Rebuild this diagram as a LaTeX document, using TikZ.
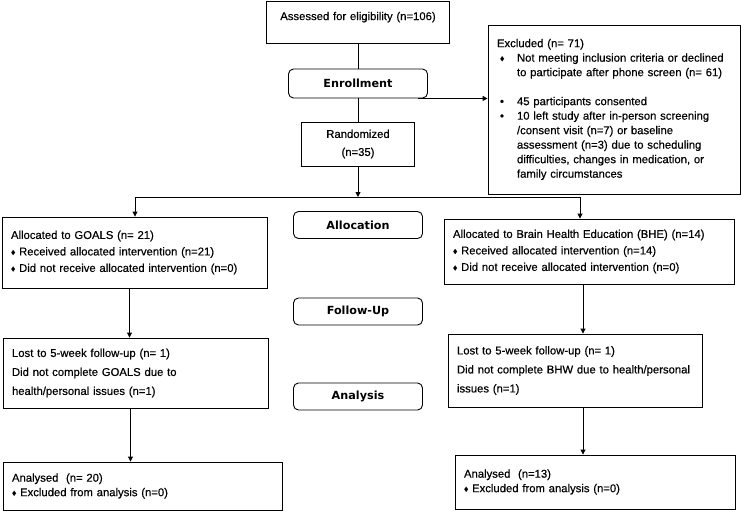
\documentclass[tikz,border=0pt]{standalone}
\usepackage{fontspec}
\setmainfont{Liberation Sans}[FakeBold=0.4]
\newfontfamily\headfont{DejaVu Sans}
\usepackage{tikz}
\usetikzlibrary{arrows.meta}

\newcommand{\dia}{{\fontsize{8.5}{8.5}\selectfont\raisebox{0.4pt}{♦}}}
\newcommand{\exitem}[2]{\makebox[20pt][l]{\hspace{3pt}#1}#2}
\newcommand{\exrest}{\hspace*{20pt}}

\begin{document}
\begin{tikzpicture}[x=1pt, y=-1pt,
    box/.style={draw, line width=0.9pt, inner xsep=9pt, inner ysep=3pt, align=left,
        font=\fontsize{11.3}{14.5}\selectfont},
    stage/.style={draw, line width=0.9pt, rounded corners=5pt, minimum width=129pt,
        minimum height=27pt, font=\headfont\bfseries\fontsize{11.2}{13}\selectfont},
    con/.style={line width=0.9pt},
    arr/.style={line width=0.9pt, -{Triangle[length=5pt,width=5pt]}}]
    \useasboundingbox (0,0) rectangle (741,511);

    % enrollment
    \node[box, align=center, text width=165pt, minimum height=42pt, text depth=12pt] (assess) at (358,22)
        {Assessed for eligibility (n=106)};
    \node[stage, minimum width=139pt, minimum height=29pt] (enroll) at (358,83.5) {Enrollment};
    \node[box, text width=234pt, minimum height=169pt] (excl) at (614,109.5)
        {Excluded (n= 71)\\
         \exitem{\dia}{Not meeting inclusion criteria or declined}\\
         \exrest to participate after phone screen (n= 61)\\[14.5pt]
         \exitem{•}{45 participants consented}\\
         \exitem{•}{10 left study after in-person screening}\\
         \exrest /consent visit (n=7) or baseline\\
         \exrest assessment (n=3) due to scheduling\\
         \exrest difficulties, changes in medication, or\\
         \exrest family circumstances};
    \node[box, align=center, text width=95pt, minimum height=44pt,
        font=\fontsize{11.3}{18}\selectfont] (rand) at (358,144) {Randomized\\(n=35)};

    % stage labels
    \node[stage] (alloc) at (358,225) {Allocation};
    \node[stage] (follow) at (358,311.5) {Follow-Up};
    \node[stage] (analysis) at (358,396.5) {Analysis};

    % GOALS arm
    \node[box, text width=247pt, minimum height=71pt, font=\fontsize{11.3}{16.5}\selectfont] (goalsalloc) at (134.5,252.5)
        {Allocated to GOALS (n= 21)\\
         \dia\ Received allocated intervention (n=21)\\
         \dia\ Did not receive allocated intervention (n=0)};
    \node[box, text width=247pt, minimum height=70pt, font=\fontsize{11.3}{19}\selectfont] (goalslost) at (135.5,373)
        {Lost to 5-week follow-up (n= 1)\\
         Did not complete GOALS due to\\
         health/personal issues (n=1)};
    \node[box, text width=261pt, minimum height=48pt] (goalsana) at (142.5,486)
        {Analysed\ \ (n= 20)\\
         \dia\ Excluded from analysis (n=0)};

    % BHE arm
    \node[box, text width=272pt, minimum height=65pt, font=\fontsize{11.3}{16.5}\selectfont] (bhealloc) at (589,251.5)
        {Allocated to Brain Health Education (BHE) (n=14)\\
         \dia\ Received allocated intervention (n=14)\\
         \dia\ Did not receive allocated intervention (n=0)};
    \node[box, text width=236pt, minimum height=73pt, font=\fontsize{11.3}{19}\selectfont] (bhelost) at (575,370.5)
        {Lost to 5-week follow-up (n= 1)\\
         Did not complete BHW due to health/personal\\
         issues (n=1)};
    \node[box, text width=262pt, minimum height=54pt] (bheana) at (595,482)
        {Analysed\ \ (n=13)\\
         \dia\ Excluded from analysis (n=0)};

    % connectors
    \coordinate (split) at (358,197);
    \coordinate (lsplit) at (135,197);
    \coordinate (rsplit) at (580,197);
    \draw[con] (assess) -- (enroll);
    \draw[con] (enroll) -- (rand);
    \draw[arr] ([xshift=-10pt]enroll.south east) -- (excl.west |- enroll.south);
    \draw[arr] (rand) -- (split);
    \draw[con] (lsplit) -- (rsplit);
    \draw[arr] (lsplit) -- (lsplit |- goalsalloc.north);
    \draw[arr] (rsplit) -- (rsplit |- bhealloc.north);
    \draw[arr] ([xshift=-5pt]goalsalloc.south) -- ([xshift=-5pt]goalsalloc.south |- goalslost.north);
    \draw[arr] ([xshift=-5pt]goalslost.south) -- ([xshift=-5pt]goalslost.south |- goalsana.north);
    \draw[arr] ([xshift=-6pt]bhealloc.south) -- ([xshift=-6pt]bhealloc.south |- bhelost.north);
    \draw[arr] ([xshift=8pt]bhelost.south) -- ([xshift=8pt]bhelost.south |- bheana.north);
\end{tikzpicture}
\end{document}
